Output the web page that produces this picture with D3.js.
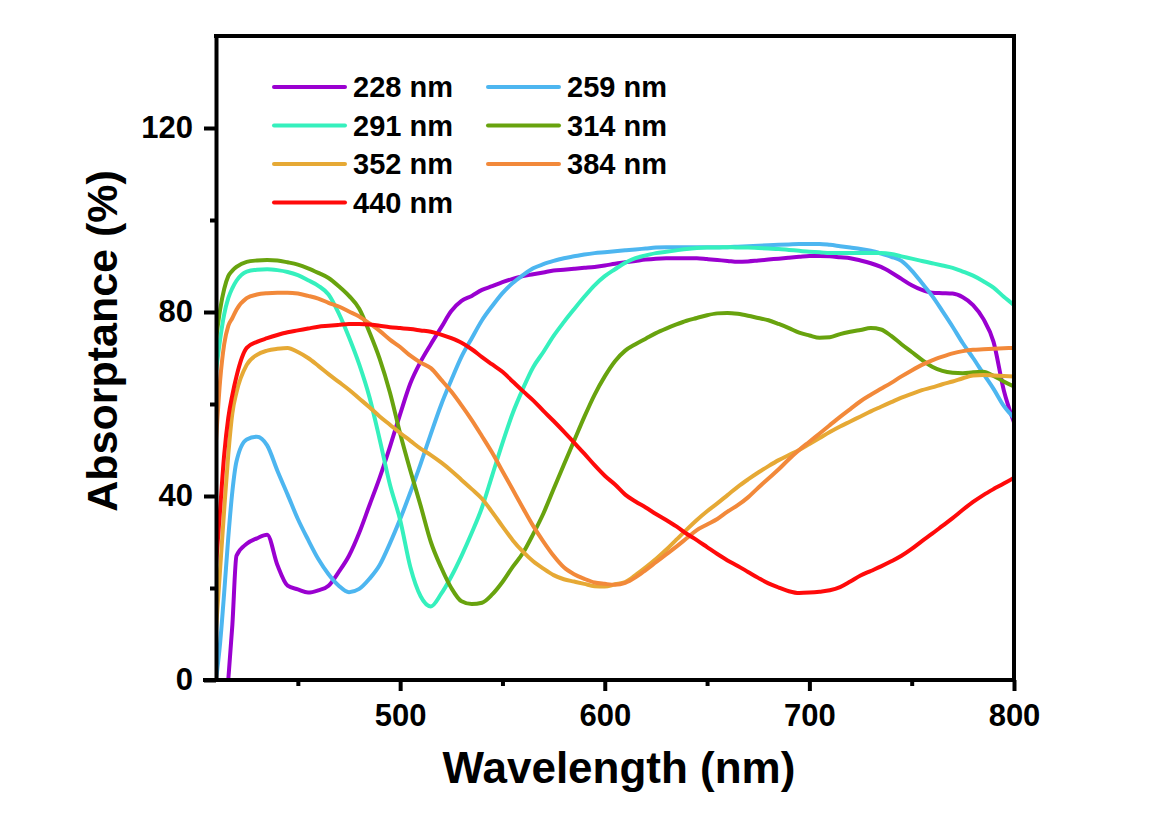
<!DOCTYPE html>
<html>
<head>
<meta charset="utf-8">
<script src="https://cdn.jsdelivr.net/npm/d3@7"></script>
<style>
  body { margin: 0; background: #fff; }
  svg { display: block; font-family: "Liberation Sans", Arial, sans-serif; font-weight: bold; }
</style>
</head>
<body>
<div id="chart"></div>
<script>
// wavelength grid (nm)
var wavelengths = [410, 412, 414, 416, 418, 420,
  425, 430, 435, 440, 445, 450, 455, 460, 465, 470,
  475, 480, 485, 490, 495, 500, 505, 510, 515, 520,
  525, 530, 535, 540, 545, 550, 555, 560, 565, 570,
  575, 580, 585, 590, 595, 600, 605, 610, 615, 620,
  625, 630, 635, 640, 645, 650, 655, 660, 665, 670,
  675, 680, 685, 690, 695, 700, 705, 710, 715, 720,
  725, 730, 735, 740, 745, 750, 755, 760, 765, 770,
  775, 780, 785, 790, 795, 800];

var seriesNames = ["228 nm", "259 nm", "291 nm", "314 nm", "352 nm", "384 nm", "440 nm"];
var seriesColors = ["#9a00d0", "#4db6f0", "#35f0bd", "#68a30e", "#e6a935", "#f2893a", "#ff0a0a"];

var abs228 = [null, null, null, 0, 12, 27,
  29.6, 30.8, 31.6, 25, 20.5, 19.7, 19, 19.5, 20.5, 23.5,
  27, 32, 38, 44, 50.7, 57.8, 64.5, 69.2, 73, 76.6,
  80.2, 82.4, 83.5, 84.8, 85.6, 86.5, 87.2, 87.8, 88.2, 88.6,
  89, 89.2, 89.4, 89.6, 89.8, 90.1, 90.5, 90.8, 91.1, 91.4,
  91.6, 91.7, 91.7, 91.7, 91.7, 91.5, 91.3, 91.1, 90.9, 91,
  91.2, 91.4, 91.6, 91.8, 92, 92.2, 92.2, 92.1, 91.9, 91.7,
  91.2, 90.6, 89.8, 88.6, 87.2, 85.8, 84.8, 84.2, 84.1, 84,
  83.2, 81.5, 78.5, 73.5, 63, 56];

var abs259 = [0, 8, 19, 31, 41, 47.5,
  52.3, 52.9, 51, 45.5, 40.3, 35, 30.5, 26.3, 23, 20.5,
  19.1, 19.8, 22, 25, 29.7, 35, 40.8, 47, 53.5, 59.8,
  65.2, 70.3, 74.3, 78.2, 81.3, 84.1, 86.3, 88, 89.5, 90.4,
  91.1, 91.7, 92.1, 92.5, 92.8, 93, 93.2, 93.4, 93.6, 93.8,
  94, 94.1, 94.1, 94.1, 94.1, 94.1, 94.1, 94.1, 94.2, 94.3,
  94.4, 94.5, 94.6, 94.7, 94.8, 94.8, 94.8, 94.6, 94.3, 94,
  93.7, 93.3, 92.7, 92, 91.1, 89, 86.3, 83.5, 80.2, 76.8,
  73.2, 70, 66.6, 63.3, 59.6, 57];

var abs291 = [67, 74, 79.5, 83, 85.2, 86.8,
  88.8, 89.2, 89.3, 89.1, 88.7, 88, 86.9, 85.7, 83.8, 79.7,
  74.5, 68.6, 61.5, 52.3, 42.5, 34.8, 24.5, 18.2, 16, 18.7,
  22.5, 27, 32, 37.5, 44.5, 51.5, 58, 63.3, 68, 71.3,
  74.8, 77.8, 80.6, 83.3, 85.8, 87.8, 89.3, 90.7, 91.7, 92.3,
  92.8, 93.1, 93.4, 93.7, 93.9, 94, 94, 94.1, 94, 94,
  93.9, 93.8, 93.7, 93.5, 93.3, 93.1, 93, 92.8, 92.8, 92.8,
  92.8, 92.8, 92.8, 92.6, 92.1, 91.6, 91.1, 90.6, 90.1, 89.6,
  88.8, 87.9, 86.7, 85.3, 83.3, 81.5];

var abs314 = [74, 80.5, 85, 87.8, 89, 89.8,
  90.9, 91.2, 91.3, 91.2, 90.8, 90.3, 89.5, 88.5, 87.4, 85.6,
  83.5, 80.7, 75.6, 69.8, 62.5, 53.6, 45.5, 37.9, 30, 24.5,
  20, 17.1, 16.5, 16.8, 18.6, 21.3, 24.6, 27.6, 31.7, 36.2,
  41.5, 46.8, 52, 57.2, 62, 66, 69.3, 71.6, 73, 74.2,
  75.4, 76.4, 77.3, 78.1, 78.7, 79.3, 79.7, 79.8, 79.6, 79.2,
  78.7, 78.2, 77.4, 76.5, 75.5, 74.9, 74.4, 74.5, 75.2, 75.7,
  76.1, 76.5, 76.2, 74.8, 73, 71.3, 69.6, 68.1, 67.2, 66.8,
  66.7, 66.9, 67, 66.1, 64.9, 63.8];

var abs352 = [11, 24, 37, 49, 58, 62.5,
  68.5, 70.7, 71.6, 72, 72.2, 71.3, 70, 68.3, 66.5, 64.8,
  63.1, 61.2, 59.3, 57.3, 55.5, 53.7, 52, 50.3, 48.9, 47.3,
  45.5, 43.5, 41.5, 39.4, 36.5, 33.4, 30.4, 27.9, 25.8, 24.2,
  22.8, 21.9, 21.4, 20.9, 20.4, 20.3, 20.8, 21.3, 22.8, 24.5,
  26.3, 28.3, 30.5, 32.7, 34.8, 36.7, 38.4, 40.2, 42, 43.6,
  45.1, 46.5, 47.8, 48.9, 50, 51.3, 52.6, 53.9, 55.1, 56.2,
  57.3, 58.4, 59.4, 60.4, 61.4, 62.2, 63, 63.6, 64.3, 64.9,
  65.6, 66.2, 66.3, 66.2, 66.1, 66];

var abs384 = [52, 65, 73, 77, 78.7, 80.5,
  83, 83.8, 84.1, 84.2, 84.2, 84, 83.5, 82.9, 82, 81.2,
  80.1, 79, 77.5, 75.9, 74, 72.4, 70.5, 69, 67.8, 65.3,
  62.7, 59.7, 56.5, 53, 49.4, 45.4, 41.4, 37.4, 33.5, 30.1,
  27, 24.5, 23, 22, 21.2, 20.9, 20.7, 21.1, 22.3, 23.9,
  25.6, 27.3, 29, 30.8, 32.6, 33.8, 35, 36.6, 38, 39.7,
  41.8, 43.8, 45.8, 48, 50, 51.8, 53.6, 55.4, 57.2, 58.9,
  60.6, 62, 63.3, 64.6, 66, 67.3, 68.5, 69.5, 70.3, 71,
  71.5, 71.8, 71.9, 72, 72.1, 72.2];

var abs440 = [25, 37, 49, 57, 62, 66,
  72.2, 73.5, 74.3, 75, 75.6, 76, 76.4, 76.8, 77, 77.2,
  77.4, 77.4, 77.3, 77, 76.7, 76.5, 76.3, 76, 75.7, 75.1,
  74.3, 73.3, 71.9, 70.2, 68.6, 67, 64.9, 62.8, 60.8, 58.5,
  56.3, 54, 51.6, 49.2, 46.7, 44.4, 42.5, 40.3, 38.8, 37.5,
  36.1, 34.8, 33.4, 31.8, 30.4, 28.9, 27.4, 26, 24.8, 23.5,
  22.2, 21, 20.1, 19.3, 18.9, 19, 19.2, 19.5, 20.2, 21.4,
  22.7, 23.7, 24.7, 25.8, 27, 28.5, 30.2, 31.8, 33.5, 35.2,
  37, 38.7, 40.2, 41.5, 42.7, 44];

var seriesValues = [abs228, abs259, abs291, abs314, abs352, abs384, abs440];

var xMajor = [500, 600, 700, 800];
var xMinor = [450, 550, 650, 750];
var yMajor = [0, 40, 80, 120];
var yMinor = [20, 60, 100];

var width = 1167, height = 821;
var margin = {top: 36, right: 153, bottom: 141, left: 216};
var innerW = width - margin.left - margin.right;
var innerH = height - margin.top - margin.bottom;

var svg = d3.select("#chart").append("svg")
  .attr("width", width).attr("height", height);

var g = svg.append("g").attr("transform", "translate(" + margin.left + "," + margin.top + ")");

var x = d3.scaleLinear().domain([410, 800]).range([0, innerW]);
var y = d3.scaleLinear().domain([0, 140]).range([innerH, 0]);

g.append("clipPath").attr("id", "clip")
  .append("rect").attr("width", innerW).attr("height", innerH);

var line = d3.line()
  .defined(function(d) { return d.v !== null; })
  .x(function(d) { return x(d.w); })
  .y(function(d) { return y(d.v); })
  .curve(d3.curveMonotoneX);

var series = seriesNames.map(function(name, i) {
  return {
    name: name,
    color: seriesColors[i],
    points: wavelengths.map(function(w, j) { return {w: w, v: seriesValues[i][j]}; })
  };
});

g.append("g").attr("clip-path", "url(#clip)")
  .selectAll("path").data(series).enter().append("path")
  .attr("d", function(d) { return line(d.points); })
  .attr("fill", "none")
  .attr("stroke", function(d) { return d.color; })
  .attr("stroke-width", 4)
  .attr("stroke-linejoin", "round")
  .attr("stroke-linecap", "round");

// axes
function styleAxis(sel) {
  sel.selectAll("path, line").attr("stroke", "#000").attr("stroke-width", 4);
  sel.selectAll("text").attr("fill", "#000")
    .style("font-size", "31px").style("font-weight", "bold")
    .style("font-family", "'Liberation Sans', Arial, sans-serif");
}

var xAxis = g.append("g").attr("transform", "translate(0," + innerH + ")")
  .call(d3.axisBottom(x).tickValues(xMajor).tickSize(11).tickSizeOuter(0).tickPadding(13));
styleAxis(xAxis);
xAxis.select(".domain").attr("d", "M-13,0H" + innerW);

var xMinorAxis = g.append("g").attr("transform", "translate(0," + innerH + ")")
  .call(d3.axisBottom(x).tickValues(xMinor).tickSize(6).tickFormat(""));
xMinorAxis.select(".domain").remove();
styleAxis(xMinorAxis);

var yAxis = g.append("g")
  .call(d3.axisLeft(y).tickValues(yMajor).tickSize(12).tickSizeOuter(0).tickPadding(11));
styleAxis(yAxis);

var yMinorAxis = g.append("g")
  .call(d3.axisLeft(y).tickValues(yMinor).tickSize(6).tickFormat(""));
yMinorAxis.select(".domain").remove();
styleAxis(yMinorAxis);

// top and right frame
g.append("path")
  .attr("d", "M-2," + y(140) + "H" + innerW + "V" + innerH)
  .attr("fill", "none").attr("stroke", "#000").attr("stroke-width", 4);

// axis titles
svg.append("text")
  .attr("x", margin.left + innerW / 2 + 4)
  .attr("y", 783)
  .attr("text-anchor", "middle")
  .style("font-size", "44px")
  .text("Wavelength (nm)");

svg.append("text")
  .attr("transform", "translate(117,341) rotate(-90)")
  .attr("text-anchor", "middle")
  .style("font-size", "43px")
  .text("Absorptance (%)");

// legend
var legend = svg.append("g");
var items = legend.selectAll("g").data(series).enter().append("g")
  .attr("transform", function(d, i) {
    var col = i % 2, row = Math.floor(i / 2);
    return "translate(" + (274 + col * 214) + "," + (87 + row * 38.5) + ")";
  });
items.append("line")
  .attr("x1", 0).attr("x2", 71)
  .attr("stroke", function(d) { return d.color; })
  .attr("stroke-width", 4).attr("stroke-linecap", "round");
items.append("text")
  .attr("x", 79).attr("dy", "0.36em")
  .style("font-size", "29px")
  .text(function(d) { return d.name; });
</script>
</body>
</html>
